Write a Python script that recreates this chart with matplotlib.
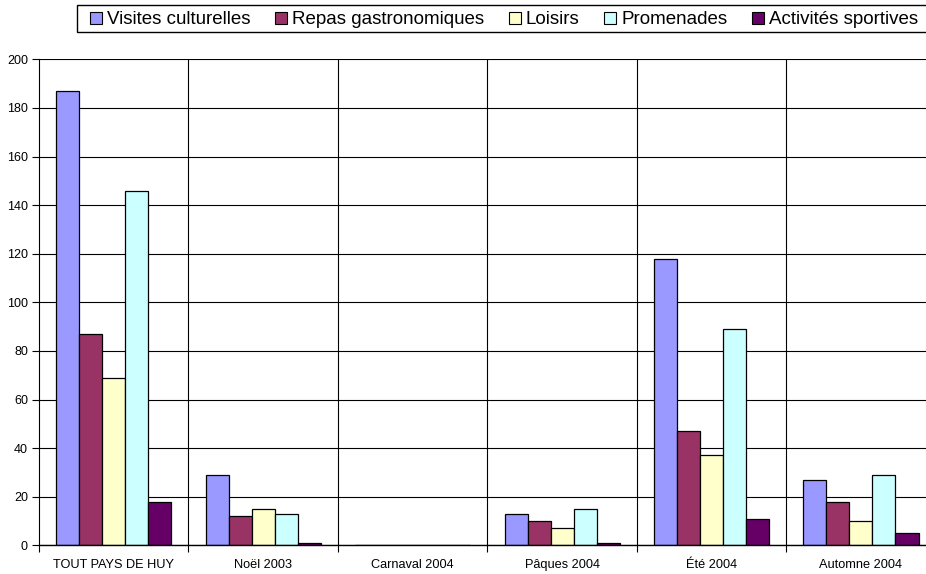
import matplotlib
matplotlib.use("Agg")
import matplotlib.pyplot as plt
import numpy as np
from matplotlib.lines import Line2D
from matplotlib.patches import Rectangle

plt.rcParams['font.family'] = ['Liberation Sans', 'DejaVu Sans']

categories = ["TOUT PAYS DE HUY", "Noël 2003", "Carnaval 2004", "Pâques 2004", "Été 2004", "Automne 2004"]
series_names = ["Visites culturelles", "Repas gastronomiques", "Loisirs", "Promenades", "Activités sportives"]
visites = [187, 29, 0, 13, 118, 27]
repas = [87, 12, 0, 10, 47, 18]
loisirs = [69, 15, 0, 7, 37, 10]
promenades = [146, 13, 0, 15, 89, 29]
sportives = [18, 1, 0, 1, 11, 5]
yticks = [0, 20, 40, 60, 80, 100, 120, 140, 160, 180, 200]

series = [visites, repas, loisirs, promenades, sportives]
colors = ["#9999FF", "#993366", "#FFFFCC", "#CCFFFF", "#660066"]

W, H = 926, 574
fig = plt.figure(figsize=(W/100, H/100), dpi=100)
ax = fig.add_axes([39/W, 1-545.3/H, (935.7-39)/W, (545.3-59.3)/H])

x = np.arange(len(categories))
w = 0.154
for i, (vals, c) in enumerate(zip(series, colors)):
    ax.bar(x + (i-2)*w, vals, width=w, color=c, edgecolor="black", linewidth=0.9, zorder=3)

ax.set_xlim(-0.5, len(categories)-0.5)
ax.set_ylim(0, 200)
ax.set_yticks(yticks)
ax.set_yticklabels([str(t) for t in yticks], fontsize=9)
ax.grid(axis="y", color="black", linewidth=0.8, zorder=0)

bounds = np.arange(-0.5, len(categories)+0.5, 1.0)
ax.set_xticks(bounds)
ax.set_xticklabels([])
ax.set_xticks(x, minor=True)
ax.set_xticklabels(categories, minor=True, fontsize=9.2)
ax.tick_params(axis="x", which="minor", length=0, pad=10)
ax.tick_params(axis="x", which="major", length=5, width=0.8, direction="out")
ax.tick_params(axis="y", length=5, width=0.8, pad=3)
for b in bounds[1:-1]:
    ax.axvline(b, color="black", linewidth=0.8, zorder=0)

for s in ["top", "right"]:
    ax.spines[s].set_visible(False)
ax.spines["left"].set_linewidth(0.8)
ax.spines["bottom"].set_linewidth(1.0)
ax.spines["bottom"].set_zorder(4)

# legend frame
fig.patches.append(Rectangle((77.3/W, 1-32.3/H), (945-77.3)/W, (32.3-4.7)/H,
                             transform=fig.transFigure, facecolor="white",
                             edgecolor="black", linewidth=1.0, zorder=0))

handles = [Line2D([], [], marker="s", linestyle="none", markersize=9,
                  markerfacecolor=c, markeredgecolor="black", markeredgewidth=0.8)
           for c in colors]
leg = fig.legend(handles, series_names, loc="center left", bbox_to_anchor=(90.0/W, 1-19.5/H),
                 ncol=5, fontsize=13.5, frameon=False,
                 handlelength=0.65, handletextpad=0.25, columnspacing=1.32,
                 borderpad=0, borderaxespad=0)

fig.savefig("out.png", dpi=100)
